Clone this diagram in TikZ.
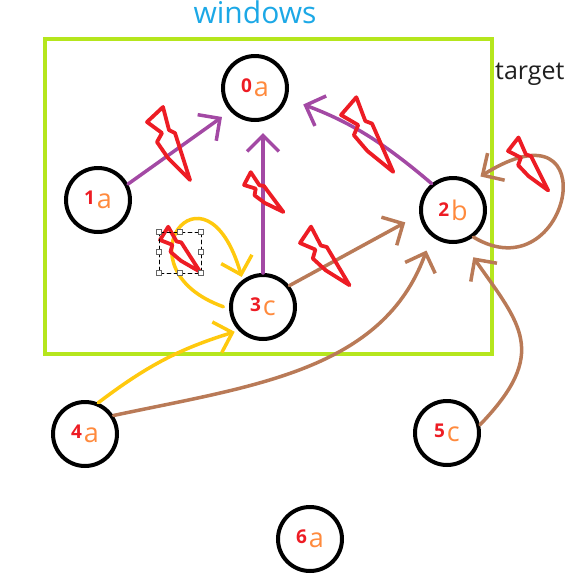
\documentclass[tikz,border=0pt]{standalone}
\usepackage{fontspec}
\setmainfont{Open Sans}
\usetikzlibrary{%
  arrows.meta,%
  positioning,% wg. " of "
  automata
}

\definecolor{boltred}{RGB}{237,28,36}
\definecolor{letterorange}{RGB}{255,138,61}
\definecolor{edgepurple}{RGB}{163,73,164}
\definecolor{edgebrown}{RGB}{185,122,87}
\definecolor{edgeyellow}{RGB}{255,201,14}
\definecolor{framegreen}{RGB}{181,230,29}
\definecolor{titleblue}{RGB}{28,168,230}

% red number + orange letter inside a state
\newcommand{\nlbl}[2]{{\color{boltred}\raisebox{4pt}{\fontsize{19}{19}\selectfont\bfseries #1}}\hspace{2pt}{\color{letterorange}#2}}

\tikzset{
  every state/.style={draw=black, line width=4pt, minimum size=64pt, inner sep=0pt,
    font=\fontsize{27}{27}\selectfont},
  purple edge/.style={draw=edgepurple, line width=3.5pt},
  brown edge/.style={draw=edgebrown, line width=3.5pt},
  yellow edge/.style={draw=edgeyellow, line width=3.5pt},
  green frame/.style={draw=framegreen, line width=4.5pt},
  bolt line/.style={draw=boltred, line width=3.8pt, line join=round},
  select box/.style={draw=black, line width=0.8pt, dash pattern=on 4pt off 3pt},
  handle/.style={draw=black!60, fill=white, line width=1pt},
  pics/bolt/.style={code={
    \draw[bolt line] (0,0) -- (16,-15) -- (22,8) -- (28,11) -- (43,58)
      -- (21,36) -- (10,20) -- (15,11) -- cycle;}}
}

\begin{document}
\begin{tikzpicture}[x=1pt,y=-1pt,on grid,line cap=round,
    >={Straight Barb[length=16pt,width=32pt]}]
  \useasboundingbox (0,0) rectangle (570,587);
  \clip (0,0) rectangle (570,587);

  %windows
  \draw[green frame] (45,39) rectangle (492,354);
  \node[text=titleblue, font=\fontsize{30}{30}\selectfont, anchor=base] (windowslbl) at (255,23) {windows};
  \node[text=black!88, font=\fontsize{25}{25}\selectfont, anchor=base west, inner sep=0pt] (targetlbl) at (495,79) {target};

  %states
  \node[state] (0a) at (255,88) {\nlbl{0}{a}};
  \node[state] (1a) [below left=112pt and 157pt of 0a] {\nlbl{1}{a}};
  \node[state] (2b) [below right=122pt and 198pt of 0a] {\nlbl{2}{b}};
  \node[state] (3c) [below=219pt of 0a, xshift=8pt] {\nlbl{3}{c}};
  \node[state] (4a) [below=234pt of 1a, xshift=-13pt] {\nlbl{4}{a}};
  \node[state] (5c) [below=223pt of 2b, xshift=-6pt] {\nlbl{5}{c}};
  \node[state] (6a) [below=232pt of 3c, xshift=47pt] {\nlbl{6}{a}};

  \path[->]
    (1a.28) edge[purple edge, shorten >=10pt] (0a.223)
    (3c.north) edge[purple edge, shorten >=11pt] (3c.north |- 0a.south)
    (2b.129) edge[purple edge, bend right=10, shorten >=17pt] (0a.342)
    (3c.39) edge[brown edge, shorten >=16pt] (2b.188)
    (4a.33) edge[brown edge, out=12, in=250, shorten >=15pt] (2b.231)
    (5c.14) edge[brown edge, out=46, in=305, looseness=1.4, shorten >=18pt] (2b.287)
    (4a.67) edge[yellow edge, bend left=10, shorten >=4pt] (3c.224);

  %loops
  \draw[brown edge, ->, shorten >=10pt] (2b.307) .. controls (570,295) and (610,95) .. (2b.56);
  \draw[yellow edge, ->, shorten <=6pt, shorten >=3pt] (3c.183) .. controls (115,268) and (205,150) .. (3c.127);

  %bolts
  \pic at (147,122) {bolt};
  \pic[rotate=6, scale=1.07] at (341,115) {bolt};
  \pic[rotate=13, scale=0.9] at (300,243) {bolt};
  \pic[rotate=9, scale=0.78] at (508,151) {bolt};
  \pic[rotate=19, scale=0.66] at (244,185) {bolt};
  \pic[rotate=15, scale=0.71] at (160,240) {bolt};

  %selection
  \draw[select box] (159,232) rectangle (201,273);
  \foreach \x/\y in {159/232,180/232,201/232,159/252,201/252,159/273,180/273,201/273}
    \draw[handle] (\x-2.5,\y-2.5) rectangle +(5,5);
\end{tikzpicture}
\end{document}
